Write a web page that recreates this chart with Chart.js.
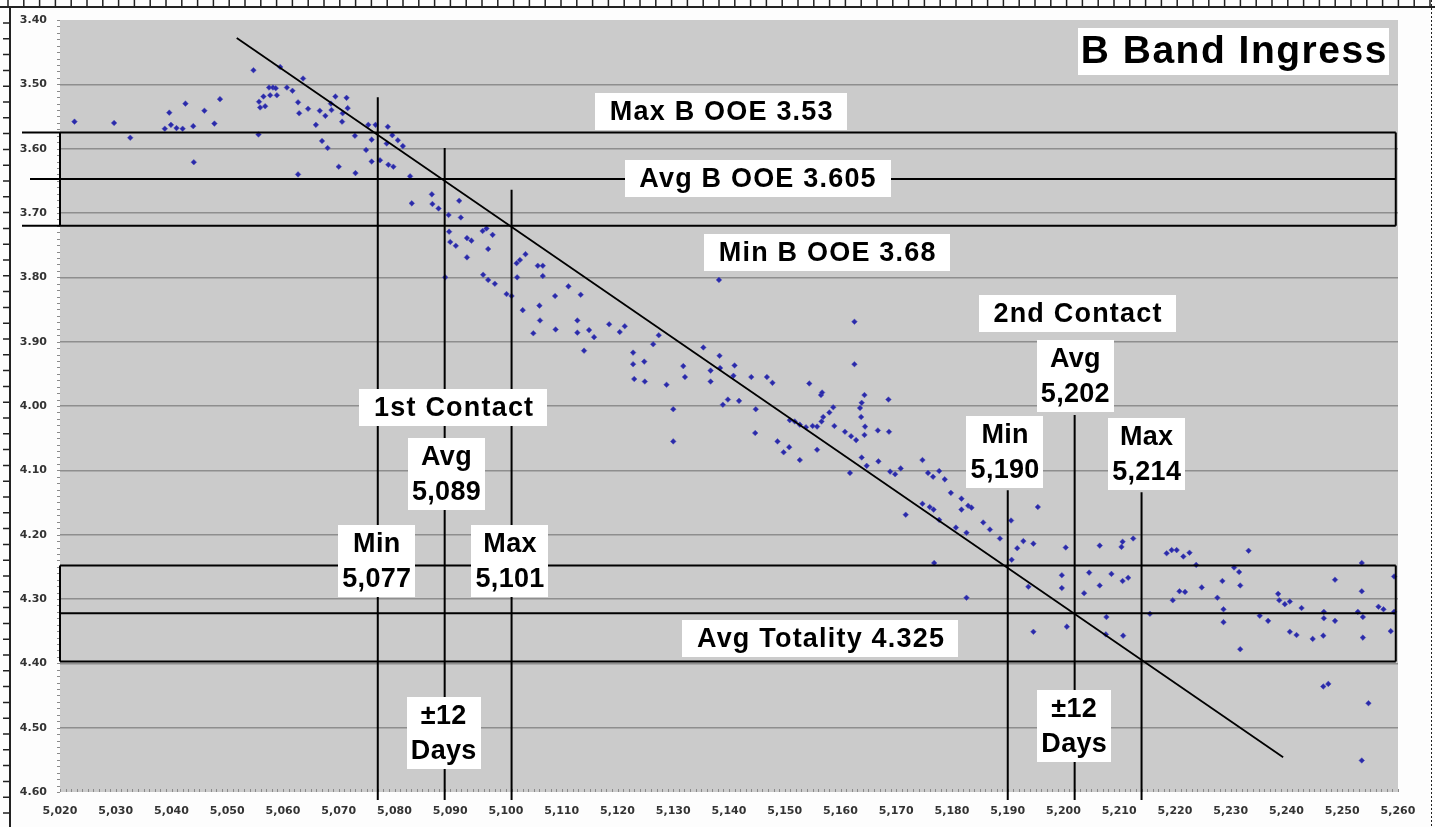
<!DOCTYPE html>
<html>
<head>
<meta charset="utf-8">
<title>B Band Ingress</title>
<script src="https://cdn.jsdelivr.net/npm/chart.js@4"></script>
<style>
  html, body { margin: 0; padding: 0; background: #fdfdfd; }
  canvas { display: block; }
</style>
</head>
<body>
<canvas id="myChart" width="1435" height="827"></canvas>
<script>
// observation days (JD - 2450000) and B magnitude
const days = [
  5022.6,5029.7,5032.6,5039.6,5038.8,5039.9,5040.9,5042.0,5042.5,5043.9,5044.0,5045.9,5047.7,5048.7,
  5054.7,5055.6,5055.7,5055.9,5056.8,5056.5,5057.5,5057.7,5058.2,5058.7,5058.9,5059.5,5060.7,5061.7,5062.7,
  5062.9,5062.7,5063.6,5064.5,5065.9,5066.6,5067.0,5067.6,5068.0,5068.7,5068.6,5069.4,5070.0,5070.6,5070.7,
  5071.4,5071.6,5073.0,5072.9,5074.9,5075.3,5075.9,5075.9,5076.6,5077.4,5078.8,5078.6,5078.9,5079.8,5079.6,
  5080.6,5081.5,5082.8,5083.1,5086.7,5086.8,5087.9,5089.7,5091.6,5091.9,5089.8,5090.0,5091.0,5089.1,5093.0,
  5093.8,5093.0,5095.8,5096.5,5097.6,5096.8,5095.9,5096.8,5098.0,5100.1,5101.0,5101.9,5102.0,5102.5,5103.5,
  5103.0,5104.9,5105.7,5106.6,5106.6,5106.0,5106.1,5108.8,5108.9,5111.2,5113.4,5112.8,5112.8,5114.9,5115.8,
  5114.0,5118.5,5120.4,5121.3,5122.8,5122.8,5124.8,5123.0,5124.9,5126.4,5127.4,5128.8,5130.0,5130.0,5131.8,
  5132.1,5135.4,5136.7,5136.7,5138.3,5138.4,5138.9,5139.8,5140.8,5141.0,5141.8,5144.0,5144.8,5144.7,5146.8,
  5147.8,5148.7,5149.8,5150.8,5150.9,5151.8,5152.7,5152.7,5153.8,5154.4,5155.0,5155.8,5155.8,5156.5,5156.7,
  5156.6,5156.9,5158.0,5158.7,5158.9,5160.8,5161.7,5161.9,5162.5,5162.5,5162.8,5163.5,5163.7,5163.8,5164.3,
  5164.4,5164.3,5163.8,5164.7,5166.7,5166.8,5168.6,5168.7,5168.9,5169.8,5170.8,5174.7,5175.7,5176.6,5177.7,
  5178.7,5138.2,5179.8,5181.7,5181.7,5182.9,5183.5,5171.7,5174.7,5176.0,5176.7,5177.7,5180.7,5182.6,5185.6,
  5186.8,5188.6,5190.6,5195.4,5191.7,5192.8,5194.6,5190.7,5176.8,5182.6,5193.7,5194.6,5200.4,5199.7,5199.7,
  5200.6,5203.7,5204.6,5206.5,5206.5,5207.7,5207.6,5208.6,5210.4,5210.6,5212.5,5210.6,5211.6,5210.7,5215.5,
  5218.5,5219.4,5220.3,5221.5,5222.6,5223.8,5219.6,5220.8,5221.8,5224.8,5227.6,5228.5,5228.7,5228.7,5230.6,
  5231.5,5231.7,5231.7,5233.2,5235.2,5236.7,5238.5,5238.7,5239.7,5240.6,5240.6,5241.8,5242.7,5244.7,5246.7,
  5246.7,5246.6,5248.7,5248.7,5246.6,5247.5,5253.5,5253.5,5252.8,5253.7,5253.7,5254.7,5253.5,5256.5,5257.4,5258.7,
  5259.3,5259.3
];
const bMag = [
  3.558,3.560,3.583,3.544,3.569,3.563,3.568,3.569,3.530,3.565,3.621,3.541,3.561,3.523,
  3.478,3.578,3.527,3.536,3.534,3.519,3.505,3.517,3.505,3.506,3.517,3.473,3.505,3.510,3.528,
  3.545,3.640,3.491,3.538,3.563,3.541,3.588,3.549,3.599,3.540,3.530,3.519,3.628,3.558,3.545,
  3.521,3.537,3.638,3.580,3.602,3.563,3.586,3.620,3.563,3.618,3.566,3.592,3.625,3.628,3.579,
  3.587,3.596,3.643,3.685,3.671,3.686,3.693,3.703,3.681,3.707,3.729,3.745,3.751,3.800,3.739,
  3.743,3.769,3.728,3.724,3.734,3.756,3.796,3.804,3.810,3.826,3.829,3.778,3.800,3.773,3.764,
  3.851,3.887,3.782,3.782,3.798,3.844,3.867,3.829,3.881,3.814,3.827,3.867,3.886,3.882,3.893,
  3.914,3.873,3.885,3.876,3.917,3.935,3.931,3.958,3.962,3.904,3.890,3.967,4.005,4.055,3.938,
  3.955,3.909,3.945,3.962,3.922,3.941,3.998,3.990,3.953,3.937,3.992,3.955,4.005,4.042,3.955,
  3.964,4.055,4.072,4.064,4.022,4.024,4.029,4.084,4.033,3.965,4.031,4.032,4.068,3.983,3.979,
  4.024,4.017,4.010,4.002,4.031,4.040,4.104,4.047,3.869,3.935,4.053,4.003,4.017,3.995,3.983,
  4.032,4.045,4.080,4.093,4.038,4.086,3.990,4.040,4.102,4.106,4.097,4.084,4.104,4.110,4.101,
  4.114,3.804,4.135,4.144,4.161,4.155,4.158,4.169,4.152,4.157,4.161,4.177,4.189,4.197,4.181,
  4.192,4.206,4.178,4.157,4.221,4.210,4.214,4.239,4.244,4.298,4.281,4.351,4.220,4.263,4.283,
  4.343,4.291,4.259,4.217,4.279,4.328,4.355,4.261,4.219,4.211,4.206,4.272,4.267,4.357,4.323,
  4.229,4.224,4.224,4.234,4.228,4.247,4.302,4.288,4.289,4.282,4.298,4.272,4.316,4.336,4.251,
  4.258,4.279,4.378,4.225,4.326,4.334,4.292,4.302,4.308,4.304,4.351,4.356,4.314,4.362,4.320,
  4.330,4.357,4.270,4.334,4.436,4.432,4.244,4.288,4.320,4.328,4.360,4.462,4.551,4.312,4.316,4.350,
  4.265,4.320
];

// ingress trend line end points
const fitDays = [5051.7, 5239.4];
const fitMag = [3.428, 4.546];

// out-of-eclipse band (max / avg / min) and totality band, as drawn
const ooeLevels = [3.575, 3.647, 3.72];
const totalityLevels = [4.248, 4.322, 4.397];
const bandRightDay = 5259.6;

// contact markers: 1st contact min/avg/max, 2nd contact min/avg/max
const contactDays = [5077, 5089, 5101, 5190, 5202, 5214];
const contactTops = [3.520, 3.599, 3.664, 4.131, 4.014, 4.134];

const xRange = [5020, 5260];
const yRange = [3.40, 4.60];

// text boxes, anchored in data coordinates
const notes = [
  {text: 'B Band Ingress', x: 5230.5, y: 3.449, kind: 'title'},
  {text: 'Max B OOE 3.53', x: 5138.6, y: 3.542, kind: 'one'},
  {text: 'Avg B OOE 3.605', x: 5145.1, y: 3.647, kind: 'one'},
  {text: 'Min B OOE 3.68', x: 5157.6, y: 3.761, kind: 'one'},
  {text: '2nd Contact', x: 5202.5, y: 3.856, kind: 'one'},
  {text: 'Avg\n5,202', x: 5202.1, y: 3.953, kind: 'two'},
  {text: 'Min\n5,190', x: 5189.5, y: 4.071, kind: 'two'},
  {text: 'Max\n5,214', x: 5214.9, y: 4.075, kind: 'two'},
  {text: '1st Contact', x: 5090.6, y: 4.002, kind: 'one'},
  {text: 'Avg\n5,089', x: 5089.3, y: 4.105, kind: 'two'},
  {text: 'Min\n5,077', x: 5076.8, y: 4.241, kind: 'two'},
  {text: 'Max\n5,101', x: 5100.7, y: 4.241, kind: 'two'},
  {text: 'Avg Totality 4.325', x: 5156.4, y: 4.361, kind: 'one'},
  {text: '±12\nDays', x: 5088.8, y: 4.508, kind: 'two'},
  {text: '±12\nDays', x: 5201.9, y: 4.497, kind: 'two'}
];

const noteStyles = {
  title: {font: 'bold 39px "Liberation Sans", Arial', spacing: '1.5px', padX: 2, padY: 3, lineH: 41},
  one: {font: 'bold 27px "Liberation Sans", Arial', spacing: '1.2px', padX: 14, padY: 3, lineH: 31},
  two: {font: 'bold 27px "Liberation Sans", Arial', spacing: '0.3px', padX: 4, padY: 1, lineH: 35}
};

function drawNote(ctx, chart, n) {
  const st = noteStyles[n.kind];
  const cx = chart.scales.x.getPixelForValue(n.x);
  const cy = chart.scales.y.getPixelForValue(n.y);
  const lines = n.text.split('\n');
  ctx.font = st.font;
  ctx.letterSpacing = st.spacing;
  const tw = Math.max(...lines.map(l => ctx.measureText(l).width));
  const w = tw + st.padX * 2;
  const h = lines.length * st.lineH + st.padY * 2;
  ctx.fillStyle = '#ffffff';
  ctx.fillRect(Math.round(cx - w / 2), Math.round(cy - h / 2), Math.round(w), Math.round(h));
  ctx.fillStyle = '#000';
  ctx.textAlign = 'center';
  ctx.textBaseline = 'middle';
  lines.forEach((l, i) => {
    ctx.fillText(l, cx + parseFloat(st.spacing) / 2, cy - h / 2 + st.padY + st.lineH * (i + 0.5) + 1);
  });
}

const decor = {
  id: 'decor',
  beforeDraw(chart) {
    const {ctx, chartArea: a} = chart;
    ctx.save();
    ctx.fillStyle = '#fdfdfd';
    ctx.fillRect(0, 0, chart.width, chart.height);
    ctx.fillStyle = '#cbcbcb';
    ctx.fillRect(a.left, a.top, a.right - a.left, a.bottom - a.top);
    ctx.restore();
  },
  afterDatasetsDraw(chart) {
    const {ctx, chartArea: a, scales} = chart;
    const xs = scales.x, ys = scales.y;
    ctx.save();

    // minor ticks along the left and bottom edges
    ctx.strokeStyle = '#8a8a8a';
    ctx.lineWidth = 1;
    ctx.beginPath();
    for (let v = yRange[0]; v <= yRange[1] + 1e-9; v += 0.01) {
      const py = Math.round(ys.getPixelForValue(v)) + 0.5;
      ctx.moveTo(a.left - 3, py); ctx.lineTo(a.left, py);
    }
    for (let d = xRange[0]; d <= xRange[1]; d += 1) {
      const px = Math.round(xs.getPixelForValue(d)) + 0.5;
      ctx.moveTo(px, a.bottom - 3); ctx.lineTo(px, a.bottom);
    }
    ctx.stroke();

    ctx.strokeStyle = '#000';
    ctx.lineWidth = 2;
    const xL = xs.getPixelForValue(xRange[0]);
    const xR = xs.getPixelForValue(bandRightDay);

    // out-of-eclipse band
    const oy = ooeLevels.map(v => ys.getPixelForValue(v));
    ctx.beginPath();
    ctx.moveTo(xL - 38, oy[0]); ctx.lineTo(xR, oy[0]);
    ctx.moveTo(xL - 30, oy[1]); ctx.lineTo(xR, oy[1]);
    ctx.moveTo(xL - 38, oy[2]); ctx.lineTo(xR, oy[2]);
    ctx.moveTo(xL, oy[0]); ctx.lineTo(xL, oy[2]);
    ctx.moveTo(xR, oy[0]); ctx.lineTo(xR, oy[2]);
    ctx.stroke();

    // totality band
    const ty = totalityLevels.map(v => ys.getPixelForValue(v));
    ctx.beginPath();
    ty.forEach(py => { ctx.moveTo(xL, py); ctx.lineTo(xR, py); });
    ctx.moveTo(xL, ty[0]); ctx.lineTo(xL, ty[2]);
    ctx.moveTo(xR, ty[0]); ctx.lineTo(xR, ty[2]);
    ctx.stroke();

    // contact verticals
    ctx.beginPath();
    contactDays.forEach((d, i) => {
      const px = xs.getPixelForValue(d);
      ctx.moveTo(px, ys.getPixelForValue(contactTops[i]));
      ctx.lineTo(px, a.bottom + 8);
    });
    ctx.stroke();

    notes.forEach(n => drawNote(ctx, chart, n));
    ctx.letterSpacing = '0px';

    // page ruler edges
    ctx.strokeStyle = '#222';
    ctx.lineWidth = 2;
    ctx.beginPath();
    ctx.moveTo(0, 7); ctx.lineTo(chart.width, 7);
    ctx.moveTo(10, 7); ctx.lineTo(10, chart.height);
    ctx.stroke();
    ctx.lineWidth = 1.5;
    ctx.beginPath();
    for (let px = 8; px < chart.width; px += 15.8) {
      ctx.moveTo(px, 0); ctx.lineTo(px, 7);
    }
    for (let py = 23; py < chart.height; py += 15.8) {
      ctx.moveTo(3, py); ctx.lineTo(10, py);
    }
    ctx.stroke();
    ctx.setLineDash([2, 2]);
    ctx.lineWidth = 1;
    ctx.beginPath();
    ctx.moveTo(1431.5, 0); ctx.lineTo(1431.5, chart.height);
    ctx.stroke();
    ctx.restore();
  }
};

const ctx = document.getElementById('myChart');

new Chart(ctx, {
  type: 'scatter',
  data: {
    datasets: [{
      label: 'Fit',
      data: fitDays.map((d, i) => ({x: d, y: fitMag[i]})),
      showLine: true,
      borderColor: '#000',
      borderWidth: 1.8,
      pointRadius: 0,
      order: 0
    }, {
      label: 'B',
      data: days.map((d, i) => ({x: d, y: bMag[i]})),
      pointStyle: 'rectRot',
      pointRadius: 2.8,
      backgroundColor: '#2a2aa8',
      borderColor: '#4848c0',
      borderWidth: 0.5,
      order: 1
    }]
  },
  options: {
    responsive: false,
    animation: false,
    events: [],
    layout: {padding: {left: 0, top: 20, right: 37, bottom: 0}},
    plugins: {
      legend: {display: false},
      tooltip: {enabled: false}
    },
    scales: {
      x: {
        type: 'linear',
        min: xRange[0],
        max: xRange[1],
        afterFit: s => { s.height = 35; },
        grid: {display: false, drawTicks: false},
        border: {display: false},
        ticks: {
          stepSize: 10,
          padding: 13,
          color: '#333',
          font: {family: '"DejaVu Sans"', size: 11, weight: 'bold'},
          maxRotation: 0,
          autoSkip: false,
          callback: v => v.toLocaleString('en-US')
        }
      },
      y: {
        min: yRange[0],
        max: yRange[1],
        reverse: true,
        afterFit: s => { s.width = 60; },
        grid: {
          drawTicks: false,
          color: c => (c.index === 0 || c.index === 12) ? 'rgba(0,0,0,0)' : '#8e8e8e',
          lineWidth: 1.5
        },
        border: {display: false},
        ticks: {
          stepSize: 0.1,
          padding: 13,
          color: '#333',
          font: {family: '"DejaVu Sans"', size: 11, weight: 'bold'},
          callback: v => v.toFixed(2)
        }
      }
    }
  },
  plugins: [decor]
});
</script>
</body>
</html>
